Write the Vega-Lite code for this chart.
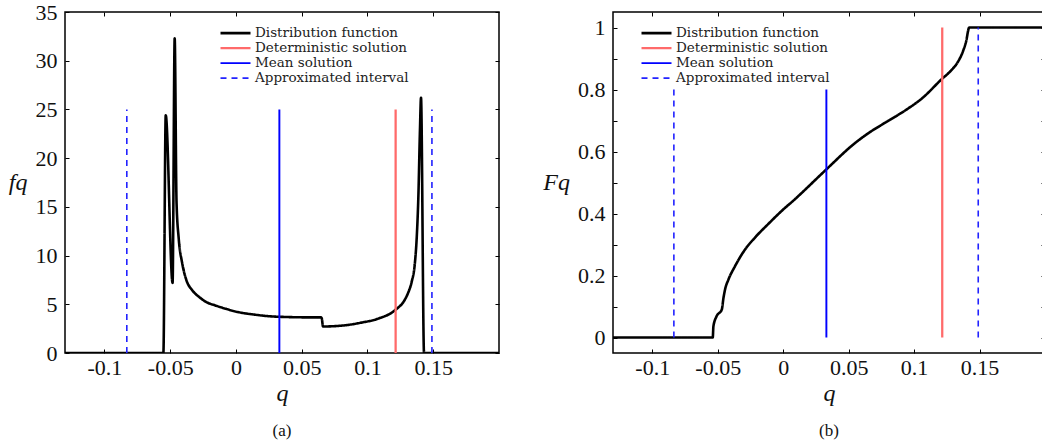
{
  "$schema": "https://vega.github.io/schema/vega-lite/v6.json",
  "background": "white",
  "padding": {"left": 7, "top": 0, "right": 0, "bottom": 0},
  "spacing": 41,
  "datasets": {
    "density": [
      {"q": -0.13, "f": 0}, {"q": -0.0552, "f": 0}, {"q": -0.0534, "f": 24.4}, {"q": -0.0482, "f": 7.2},
      {"q": -0.0466, "f": 32.3}, {"q": -0.0452, "f": 15.5}, {"q": -0.0435, "f": 11.7}, {"q": -0.041, "f": 9.3},
      {"q": -0.038, "f": 7.6}, {"q": -0.033, "f": 6.4}, {"q": -0.028, "f": 5.75}, {"q": -0.0235, "f": 5.3},
      {"q": -0.015, "f": 4.85}, {"q": -0.008, "f": 4.55}, {"q": 0.0013, "f": 4.21}, {"q": 0.014, "f": 3.94},
      {"q": 0.0267, "f": 3.76}, {"q": 0.0395, "f": 3.69}, {"q": 0.0522, "f": 3.66}, {"q": 0.0645, "f": 3.66},
      {"q": 0.0652, "f": 3.58}, {"q": 0.0662, "f": 2.72}, {"q": 0.0827, "f": 2.84}, {"q": 0.0954, "f": 3.12},
      {"q": 0.1082, "f": 3.53}, {"q": 0.1208, "f": 4.38}, {"q": 0.1285, "f": 5.5}, {"q": 0.131, "f": 6.2},
      {"q": 0.1336, "f": 7.3}, {"q": 0.1361, "f": 9.3}, {"q": 0.1375, "f": 12}, {"q": 0.1387, "f": 16.1},
      {"q": 0.1399, "f": 22.9}, {"q": 0.1407, "f": 26.2}, {"q": 0.143, "f": 0}, {"q": 0.2, "f": 0}
    ],
    "cdf": [
      {"q": -0.13, "F": 0}, {"q": -0.0538, "F": 0}, {"q": -0.0533, "F": 0.036}, {"q": -0.0508, "F": 0.069},
      {"q": -0.0469, "F": 0.09}, {"q": -0.0456, "F": 0.128}, {"q": -0.0444, "F": 0.155}, {"q": -0.0418, "F": 0.187},
      {"q": -0.0368, "F": 0.23}, {"q": -0.0291, "F": 0.284}, {"q": -0.0214, "F": 0.323}, {"q": -0.0112, "F": 0.367},
      {"q": -0.001, "F": 0.409}, {"q": 0.0092, "F": 0.447}, {"q": 0.0143, "F": 0.467}, {"q": 0.0329, "F": 0.542},
      {"q": 0.0551, "F": 0.628}, {"q": 0.0654, "F": 0.66}, {"q": 0.0807, "F": 0.7}, {"q": 0.0934, "F": 0.733},
      {"q": 0.1062, "F": 0.772}, {"q": 0.1215, "F": 0.835}, {"q": 0.128, "F": 0.86}, {"q": 0.133, "F": 0.886},
      {"q": 0.1375, "F": 0.925}, {"q": 0.14, "F": 0.96}, {"q": 0.1413, "F": 0.99}, {"q": 0.142, "F": 1.0}, {"q": 0.2, "F": 1.0}
    ],
    "rulesA": [
      {"series": "Deterministic solution", "q": 0.1214, "y0": 0, "y1": 25},
      {"series": "Mean solution", "q": 0.033, "y0": 0, "y1": 25},
      {"series": "Approximated interval", "q": -0.083, "y0": 0, "y1": 25},
      {"series": "Approximated interval", "q": 0.149, "y0": 0, "y1": 25}
    ],
    "rulesB": [
      {"series": "Deterministic solution", "q": 0.1215, "y0": 0, "y1": 1},
      {"series": "Mean solution", "q": 0.033, "y0": 0, "y1": 0.8},
      {"series": "Approximated interval", "q": -0.0835, "y0": 0, "y1": 0.8},
      {"series": "Approximated interval", "q": 0.149, "y0": 0, "y1": 1}
    ]
  },
  "config": {
    "font": "'Liberation Serif', 'DejaVu Serif', serif",
    "view": {"stroke": "black", "strokeWidth": 1.5},
    "axis": {
      "domain": false, "grid": false, "tickColor": "black", "tickSize": -4, "tickWidth": 1,
      "labelFont": "'Liberation Serif', 'DejaVu Serif', serif", "labelFontSize": 22, "labelColor": "#111",
      "titleFont": "'Liberation Serif', 'DejaVu Serif', serif", "titleFontSize": 24, "titleFontStyle": "italic", "titleFontWeight": "normal", "titleColor": "#111"
    },
    "legend": {
      "symbolType": "stroke", "symbolSize": 900, "labelFont": "'DejaVu Serif', 'Liberation Serif', serif", "labelFontSize": 13.5,
      "labelColor": "#222", "rowPadding": 0, "clipHeight": 14.3, "labelOffset": 3, "padding": 0
    },
    "title": {"font": "'Liberation Serif', 'DejaVu Serif', serif", "fontSize": 17, "fontWeight": "normal", "color": "#111"}
  },
  "resolve": {
    "scale": {"color": "independent", "strokeDash": "independent", "strokeWidth": "independent"},
    "legend": {"color": "independent", "strokeDash": "independent", "strokeWidth": "independent"}
  },
  "hconcat": [
    {
      "width": 434, "height": 341,
      "title": {"text": "(a)", "orient": "bottom", "anchor": "middle", "offset": 18},
      "resolve": {"axis": {"x": "independent", "y": "independent"}},
      "layer": [
        {
          "data": {"name": "density"},
          "mark": {"type": "line", "interpolate": "monotone", "strokeJoin": "round", "clip": true},
          "encoding": {
            "x": {"field": "q", "type": "quantitative", "scale": {"domain": [-0.13, 0.2], "nice": false, "zero": false},
              "axis": {"orient": "bottom", "title": "q", "values": [-0.1, -0.05, 0, 0.05, 0.1, 0.15], "labelExpr": "replace(format(datum.value, '~g'), '−', '-')", "labelPadding": 8, "titlePadding": 3}},
            "y": {"field": "f", "type": "quantitative", "scale": {"domain": [0, 35], "nice": false},
              "axis": {"orient": "left", "title": "fq", "values": [0, 5, 10, 15, 20, 25, 30, 35], "labelPadding": 12, "titleAngle": 0, "titleAlign": "right", "titleBaseline": "middle", "titlePadding": 8}},
            "color": {"datum": "Distribution function", "type": "nominal",
              "scale": {"domain": ["Distribution function", "Deterministic solution", "Mean solution", "Approximated interval"], "range": ["black", "#ff6a6a", "#0000ff", "#2222ff"]},
              "legend": {"title": null, "orient": "none", "legendX": 154, "legendY": 14}},
            "strokeDash": {"datum": "Distribution function", "type": "nominal",
              "scale": {"domain": ["Distribution function", "Deterministic solution", "Mean solution", "Approximated interval"], "range": [[1, 0], [1, 0], [1, 0], [6, 5]]},
              "legend": {"title": null}},
            "strokeWidth": {"datum": "Distribution function", "type": "ordinal",
              "scale": {"domain": ["Distribution function", "Deterministic solution", "Mean solution", "Approximated interval"], "range": [2.6, 1.6, 1.1, 1.1]},
              "legend": {"title": null}}
          }
        },
        {
          "data": {"name": "rulesA"},
          "mark": {"type": "rule"},
          "encoding": {
            "x": {"field": "q", "type": "quantitative", "axis": {"orient": "top", "labels": false, "title": null, "values": [-0.1, -0.05, 0, 0.05, 0.1, 0.15]}},
            "y": {"field": "y0", "type": "quantitative", "axis": {"orient": "right", "labels": false, "title": null, "values": [0, 5, 10, 15, 20, 25, 30, 35]}},
            "y2": {"field": "y1"},
            "color": {"field": "series", "type": "nominal",
              "scale": {"domain": ["Distribution function", "Deterministic solution", "Mean solution", "Approximated interval"], "range": ["black", "#ff6a6a", "#0000ff", "#2222ff"]},
              "legend": {"title": null, "orient": "none", "legendX": 154, "legendY": 14}},
            "strokeDash": {"field": "series", "type": "nominal",
              "scale": {"domain": ["Distribution function", "Deterministic solution", "Mean solution", "Approximated interval"], "range": [[1, 0], [1, 0], [1, 0], [6, 5]]},
              "legend": {"title": null}},
            "strokeWidth": {"field": "series", "type": "ordinal",
              "scale": {"domain": ["Distribution function", "Deterministic solution", "Mean solution", "Approximated interval"], "range": [2.6, 1.6, 1.1, 1.1]},
              "legend": {"title": null}}
          }
        }
      ]
    },
    {
      "width": 432, "height": 341,
      "title": {"text": "(b)", "orient": "bottom", "anchor": "middle", "offset": 18},
      "resolve": {"axis": {"x": "independent", "y": "independent"}},
      "layer": [
        {
          "data": {"name": "cdf"},
          "mark": {"type": "line", "interpolate": "monotone", "strokeJoin": "round", "clip": true},
          "encoding": {
            "x": {"field": "q", "type": "quantitative", "scale": {"domain": [-0.13, 0.2], "nice": false, "zero": false},
              "axis": {"orient": "bottom", "title": "q", "values": [-0.1, -0.05, 0, 0.05, 0.1, 0.15], "labelExpr": "replace(format(datum.value, '~g'), '−', '-')", "labelPadding": 8, "titlePadding": 3}},
            "y": {"field": "F", "type": "quantitative", "scale": {"domain": [-0.05, 1.05], "nice": false, "zero": false},
              "axis": {"orient": "left", "title": "Fq", "values": [0, 0.1, 0.2, 0.3, 0.4, 0.5, 0.6, 0.7, 0.8, 0.9, 1], "labelExpr": "round(datum.value * 10) % 2 == 1 ? '' : format(datum.value, '~g')", "labelPadding": 12, "titleAngle": 0, "titleAlign": "right", "titleBaseline": "middle", "titlePadding": 8}},
            "color": {"datum": "Distribution function", "type": "nominal",
              "scale": {"domain": ["Distribution function", "Deterministic solution", "Mean solution", "Approximated interval"], "range": ["black", "#ff6a6a", "#0000ff", "#2222ff"]},
              "legend": {"title": null, "orient": "none", "legendX": 27, "legendY": 14}},
            "strokeDash": {"datum": "Distribution function", "type": "nominal",
              "scale": {"domain": ["Distribution function", "Deterministic solution", "Mean solution", "Approximated interval"], "range": [[1, 0], [1, 0], [1, 0], [6, 5]]},
              "legend": {"title": null}},
            "strokeWidth": {"datum": "Distribution function", "type": "ordinal",
              "scale": {"domain": ["Distribution function", "Deterministic solution", "Mean solution", "Approximated interval"], "range": [2.6, 1.6, 1.1, 1.1]},
              "legend": {"title": null}}
          }
        },
        {
          "data": {"name": "rulesB"},
          "mark": {"type": "rule"},
          "encoding": {
            "x": {"field": "q", "type": "quantitative", "axis": {"orient": "top", "labels": false, "title": null, "values": [-0.1, -0.05, 0, 0.05, 0.1, 0.15]}},
            "y": {"field": "y0", "type": "quantitative", "axis": {"orient": "right", "labels": false, "title": null, "values": [0, 0.1, 0.2, 0.3, 0.4, 0.5, 0.6, 0.7, 0.8, 0.9, 1]}},
            "y2": {"field": "y1"},
            "color": {"field": "series", "type": "nominal",
              "scale": {"domain": ["Distribution function", "Deterministic solution", "Mean solution", "Approximated interval"], "range": ["black", "#ff6a6a", "#0000ff", "#2222ff"]},
              "legend": {"title": null, "orient": "none", "legendX": 27, "legendY": 14}},
            "strokeDash": {"field": "series", "type": "nominal",
              "scale": {"domain": ["Distribution function", "Deterministic solution", "Mean solution", "Approximated interval"], "range": [[1, 0], [1, 0], [1, 0], [6, 5]]},
              "legend": {"title": null}},
            "strokeWidth": {"field": "series", "type": "ordinal",
              "scale": {"domain": ["Distribution function", "Deterministic solution", "Mean solution", "Approximated interval"], "range": [2.6, 1.6, 1.1, 1.1]},
              "legend": {"title": null}}
          }
        }
      ]
    }
  ]
}
